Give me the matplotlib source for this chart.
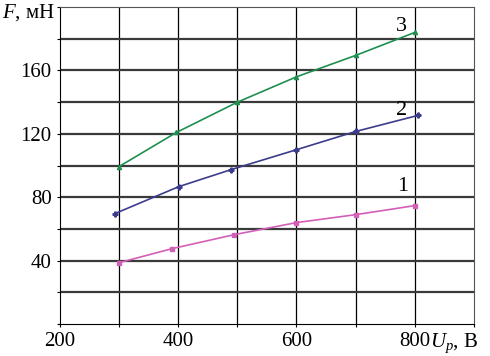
import numpy as np
import matplotlib.pyplot as plt

plt.rcParams['font.family'] = ['Liberation Serif', 'DejaVu Serif']
plt.rcParams['mathtext.fontset'] = 'custom'
plt.rcParams['mathtext.rm'] = 'Liberation Serif'
plt.rcParams['mathtext.it'] = 'Liberation Serif:italic'

# --- dados
u1 = [300, 390, 495, 600, 700, 800]
f1 = [38.7, 47.6, 56.4, 64, 69, 74.7]
u2 = [293, 401, 490, 600, 700, 805]
f2 = [69.7, 86.7, 97.5, 110, 121.5, 131.6]
u3 = [300, 397, 500, 600, 700, 800]
f3 = [99.4, 120.9, 140, 156, 169.5, 184]

xticks = [200, 400, 600, 800]
yticks = [40, 80, 120, 160]

fig = plt.figure(figsize=(4.9, 3.56), dpi=100)
ax = fig.add_axes([0.1224, 0.0899, 0.8446, 0.8901])

ax.set_xlim(200, 900)
ax.set_ylim(0, 200)

# grade
for x in range(300, 900, 100):
    ax.axvline(x, color="black", lw=0.9, zorder=1)
for y in range(20, 200, 20):
    ax.axhline(y, color="#3a3a3a", lw=1.6, zorder=1)

ax.plot(u1, f1, color="#d35fb7", lw=1.2, marker="s", ms=3.5, zorder=3)
ax.plot(u2, f2, color="#3c3c8c", lw=1.2, marker="P", ms=3.5, zorder=3)
ax.plot(u3, f3, color="#1f8f50", lw=1.2, marker="^", ms=3, zorder=3)

ax.text(780, 87, "1", fontsize=16, ha="center", va="center")
ax.text(778, 135, "2", fontsize=16, ha="center", va="center")
ax.text(778, 188, "3", fontsize=16, ha="center", va="center")

ax.set_xticks(range(200, 1000, 100))
ax.set_xticklabels(["200", "", "400", "", "600", "", "800", ""])
ax.set_yticks(range(0, 220, 20))
ax.set_yticklabels(["" if v not in yticks else str(v) for v in range(0, 220, 20)])
ax.tick_params(labelsize=15, length=2.5, width=0.8, colors="black")

for s in ["top", "right"]:
    ax.spines[s].set_color("#555555")
for s in ["left", "bottom"]:
    ax.spines[s].set_color("black")

fig.text(0.005, 0.995, r"$F$, мН", fontsize=15, ha="left", va="top")
ax.text(826, -4.5, r"$U_p$, В", fontsize=15, ha="left", va="top")

fig.savefig("out.png", dpi=100)
